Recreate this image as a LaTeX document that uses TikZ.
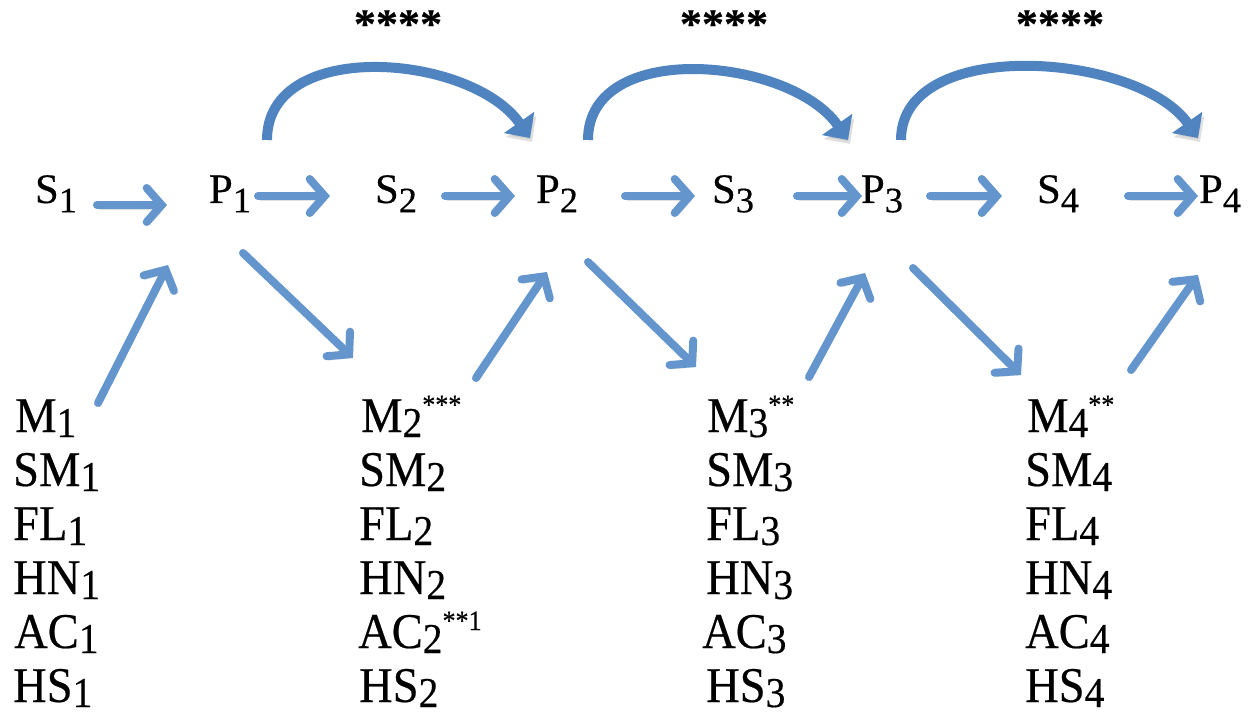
\documentclass[tikz,border=0pt]{standalone}
\usepackage{graphicx}
\usepackage{fontspec}
\setmainfont{Liberation Serif}[FakeBold=0.4]
\usetikzlibrary{arrows.meta}

\definecolor{arrblue}{RGB}{100,150,205}
\definecolor{bowblue}{RGB}{80,132,192}

% lowered indices for the top row and for the lists
\newcommand\tsub[1]{\raisebox{-0.22em}{\scalebox{0.85}{#1}}}
\newcommand\lsub[1]{\raisebox{-0.1em}{\scalebox{0.85}{#1}}}
\newcommand\lsup[1]{\raisebox{18pt}{\fontsize{28}{28}\selectfont #1}}

\begin{document}
\begin{tikzpicture}[x=1pt,y=1pt,
    top/.style={font=\fontsize{42}{46}\selectfont, xscale=1.02, text height=24pt, text depth=10pt, inner sep=0pt},
    lab/.style={font=\fontsize{50}{54}\selectfont, xscale=0.93, anchor=base west, inner sep=0pt},
    stars/.style={font=\fontsize{42}{44}\selectfont\bfseries, xscale=1.05, anchor=base, inner sep=0pt},
    arr/.style={draw=arrblue, line width=8pt, line cap=round,
        -{Straight Barb[length=15pt,width=34pt,line cap=round]},
        preaction={draw=black!35, opacity=0.35, transform canvas={shift={(2pt,-4pt)}}}},
    bow/.style={draw=bowblue, line width=10pt,
        -{Triangle[length=19pt,width=36pt]},
        preaction={draw=black!35, opacity=0.35, transform canvas={shift={(2pt,-4pt)}}}}]
    \useasboundingbox (0,0) rectangle (1251,-714);

    % top row
    \node[top] (s1) at (56,-196) {S\tsub{1}};
    \node[top] (p1) at (230,-196) {P\tsub{1}};
    \node[top] (s2) at (396,-196) {S\tsub{2}};
    \node[top] (p2) at (557,-196) {P\tsub{2}};
    \node[top] (s3) at (733,-196) {S\tsub{3}};
    \node[top] (p3) at (882,-196) {P\tsub{3}};
    \node[top] (s4) at (1058,-196) {S\tsub{4}};
    \node[top] (p4) at (1220,-196) {P\tsub{4}};

    \node[stars] (st1) at (398,-38) {****};
    \node[stars] (st2) at (724,-38) {****};
    \node[stars] (st3) at (1060,-38) {****};

    % lists
    \node[lab] (m1) at (15,-432) {M\lsub{1}};
    \node[lab] (m2) at (361,-432) {M\lsub{2}\lsup{***}};
    \node[lab] (m3) at (707,-432) {M\lsub{3}\lsup{**}};
    \node[lab] (m4) at (1027,-432) {M\lsub{4}\lsup{**}};
    \foreach \i/\x in {1/13,2/359,3/706,4/1025}{
        \node[lab] (sm\i) at (\x,-486) {SM\lsub{\i}};
        \node[lab] (fl\i) at (\x,-540) {FL\lsub{\i}};
        \node[lab] (hn\i) at (\x,-594) {HN\lsub{\i}};
        \node[lab] (hs\i) at (\x,-702) {HS\lsub{\i}};
    }
    \node[lab] (ac1) at (14,-648) {AC\lsub{1}};
    \node[lab] (ac2) at (358,-648) {AC\lsub{2}\lsup{**1}};
    \node[lab] (ac3) at (702,-648) {AC\lsub{3}};
    \node[lab] (ac4) at (1025,-648) {AC\lsub{4}};

    % straight arrows
    \draw[arr, shorten <=41pt, shorten >=63pt] ([yshift=-9pt]s1.center) -- ([yshift=-9pt]p1.center);
    \draw[arr, shorten <=28pt, shorten >=66pt] (p1.center) -- (s2.center);
    \draw[arr, shorten <=49pt, shorten >=42pt] (s2.center) -- (p2.center);
    \draw[arr, shorten <=68pt, shorten >=38pt] (p2.center) -- (s3.center);
    \draw[arr, shorten <=64pt, shorten >=20pt] (s3.center) -- (p3.center);
    \draw[arr, shorten <=48pt, shorten >=56pt] (p3.center) -- (s4.center);
    \draw[arr, shorten <=70pt, shorten >=22pt] (s4.center) -- (p4.center);

    \draw[arr] ([shift={(83,29)}]m1.base west) -- ([shift={(-62,-69)}]p1.center);
    \draw[arr] ([shift={(13,-57)}]p1.center) -- ([shift={(-8,74)}]m2.base west);
    \draw[arr] ([shift={(115,54)}]m2.base west) -- ([shift={(-10,-76)}]p2.center);
    \draw[arr] ([shift={(31,-66)}]p2.center) -- ([shift={(-11,65)}]m3.base west);
    \draw[arr] ([shift={(102,55)}]m3.base west) -- ([shift={(-17,-77)}]p3.center);
    \draw[arr] ([shift={(31,-72)}]p3.center) -- ([shift={(-6,57)}]m4.base west);
    \draw[arr] ([shift={(104,62)}]m4.base west) -- ([shift={(-22,-79)}]p4.center);

    % curved arrows
    \draw[bow] ([shift={(37,56)}]p1.center) to[out=90,in=125] ([shift={(-27,58)}]p2.center);
    \draw[bow] ([shift={(31,56)}]p2.center) to[out=90,in=125] ([shift={(-34,56)}]p3.center);
    \draw[bow] ([shift={(19,56)}]p3.center) to[out=90,in=125,looseness=0.9] ([shift={(-22,58)}]p4.center);
\end{tikzpicture}
\end{document}
